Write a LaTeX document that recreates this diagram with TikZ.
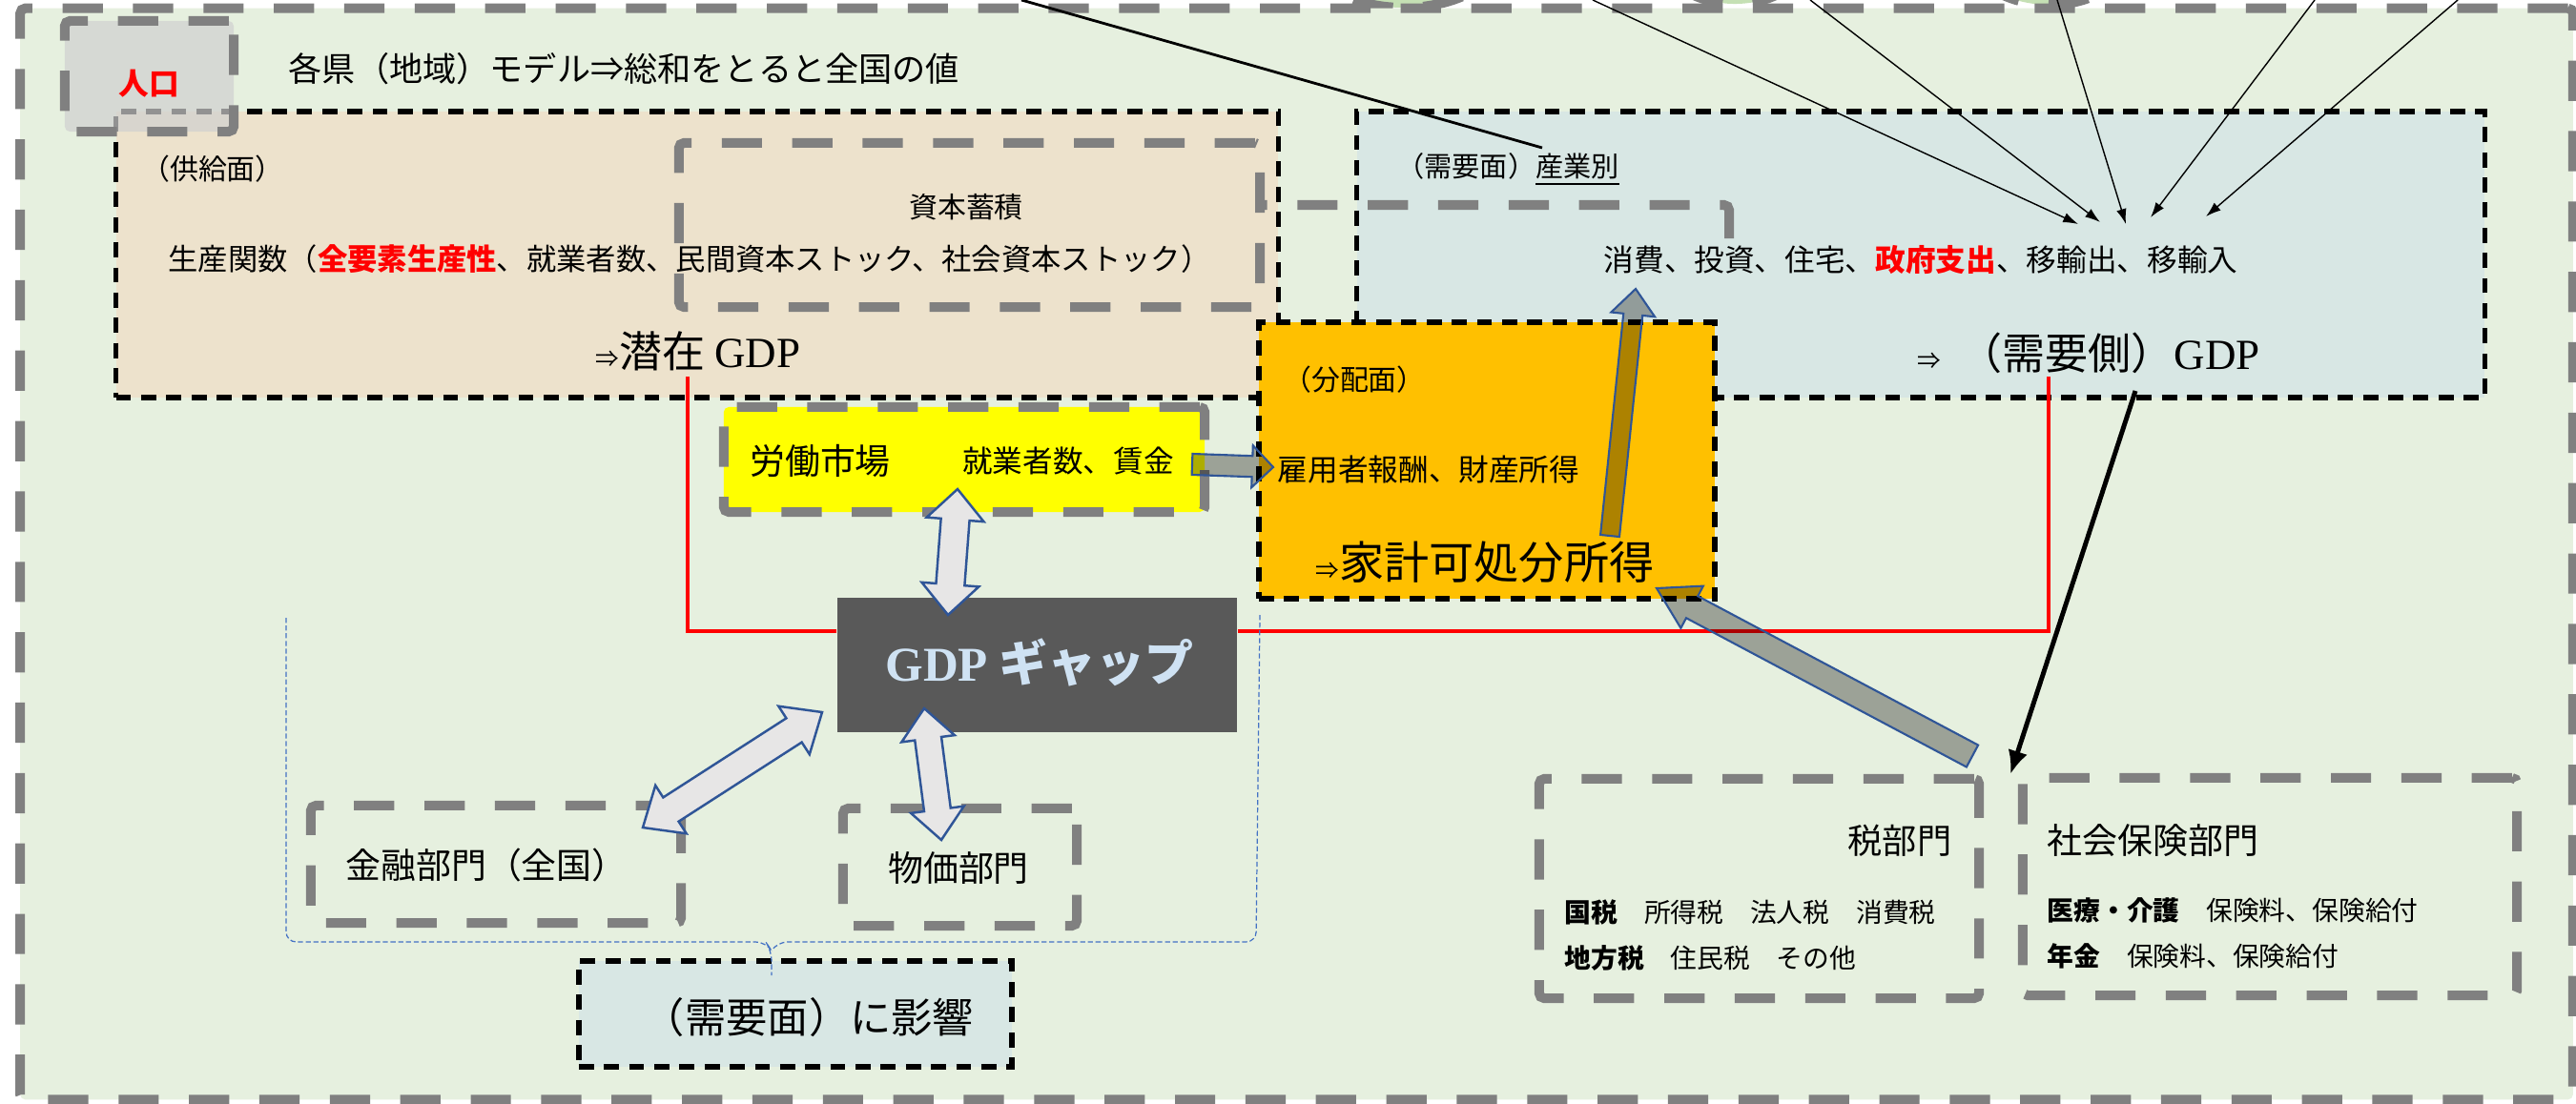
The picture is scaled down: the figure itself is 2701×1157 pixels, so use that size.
\documentclass[tikz,border=0pt]{standalone}
\usepackage{fontspec}
\setmainfont{Noto Sans CJK JP}
\newfontfamily\lserif{Liberation Serif}
\usetikzlibrary{calc,arrows.meta}
\definecolor{bgGreen}{HTML}{E6F0DF}
\definecolor{supplyTan}{HTML}{EDE2CC}
\definecolor{demandBlue}{HTML}{D8E7E4}
\definecolor{popGray}{HTML}{D0D0D0}
\definecolor{dashGray}{HTML}{808080}
\definecolor{distOrange}{HTML}{FFC000}
\definecolor{labYellow}{HTML}{FFFF00}
\definecolor{gapDark}{HTML}{595959}
\definecolor{gapText}{HTML}{CFE2F3}
\definecolor{arrowBlue}{HTML}{2F5597}
\definecolor{arrowLight}{HTML}{E7E6E6}
\definecolor{braceBlue}{HTML}{4472C4}
\definecolor{topGreen}{HTML}{C5E0B4}
\definecolor{redLine}{HTML}{FF0000}
\newcommand\fsz[1]{\fontsize{#1}{#1}\selectfont}
% single-headed block arrow: style, tail, tip, half shaft, half head, head length
\newcommand\singlearrow[6]{%
  \coordinate (tmpC) at ($(#3)!#6!(#2)$);
  \path[#1] ($(#2)!#4!90:(#3)$) -- ($(tmpC)!#4!-90:(#2)$) -- ($(tmpC)!#5!-90:(#2)$) -- (#3)
    -- ($(tmpC)!#5!90:(#2)$) -- ($(tmpC)!#4!90:(#2)$) -- ($(#2)!#4!-90:(#3)$) -- cycle;}
% double-headed block arrow
\newcommand\doublearrow[6]{%
  \coordinate (tmpCa) at ($(#2)!#6!(#3)$);
  \coordinate (tmpCb) at ($(#3)!#6!(#2)$);
  \path[#1] (#2) -- ($(tmpCa)!#5!90:(#3)$) -- ($(tmpCa)!#4!90:(#3)$) -- ($(tmpCb)!#4!-90:(#2)$)
    -- ($(tmpCb)!#5!-90:(#2)$) -- (#3) -- ($(tmpCb)!#5!90:(#2)$) -- ($(tmpCb)!#4!90:(#2)$)
    -- ($(tmpCa)!#4!-90:(#3)$) -- ($(tmpCa)!#5!-90:(#3)$) -- cycle;}
\tikzset{
  grayline/.style={draw=dashGray, line width=2.85pt, dash pattern=on 12pt off 9pt, rounded corners=1.5pt},
  graybox/.style={grayline, rectangle, inner sep=0pt},
  blackbox/.style={draw=black, line width=1.6pt, dash pattern=on 4.5pt off 3pt, rectangle, inner sep=0pt},
  txt/.style={inner sep=0pt, text=black},
  redpath/.style={draw=redLine, line width=1.1pt},
  blockfill/.style={fill=black, fill opacity=0.32, draw=arrowBlue, line width=0.6pt},
  dblfill/.style={fill=arrowLight, draw=arrowBlue, line width=0.7pt},
  thinarrow/.style={draw=black, line width=0.4pt, -{Latex[length=4.5pt,width=3pt]}},
  thickarrow/.style={draw=black, line width=1.4pt, -{Latex[length=7pt,width=6pt]}},
  bracepath/.style={draw=braceBlue, line width=0.35pt, dash pattern=on 1.5pt off 0.8pt, rounded corners=3pt}
}
\begin{document}
\begin{tikzpicture}[x=0.01cm,y=-0.01cm]
\useasboundingbox (0,0) rectangle (2701,1157);
\fill[white] (0,0) rectangle (2701,1157);
% partial shapes above the frame
\path[grayline, fill=topGreen] (1472,-60) ellipse [x radius=1.09cm, y radius=0.68cm];
\path[grayline, fill=topGreen] (1819,-60) ellipse [x radius=0.84cm, y radius=0.64cm];
\path[grayline, fill=topGreen] (2149,-60) ellipse [x radius=0.91cm, y radius=0.65cm];
% frame
\node[graybox, fill=bgGreen, minimum width=26.75cm, minimum height=11.44cm] (outer) at (1359.5,581) {};
% main boxes
\node[blackbox, fill=supplyTan, minimum width=12.18cm, minimum height=3.0cm] (supply) at (731,267) {};
\node[blackbox, fill=demandBlue, minimum width=11.82cm, minimum height=3.0cm] (demand) at (2014,267) {};
\node[graybox, minimum width=6.09cm, minimum height=1.72cm] (capital) at (1016.5,236) {};
\coordinate (capY) at (0,215);
\coordinate (capEnd) at (1813,250);
\draw[grayline] (capEnd) |- (capY -| capital.east);
\node[graybox, fill=popGray, fill opacity=0.7, minimum width=1.77cm, minimum height=1.16cm] (pop) at (156.5,80) {};
\node[blackbox, fill=distOrange, minimum width=4.78cm, minimum height=2.90cm] (dist) at (1559,483) {};
% gap box and red links
\node[rectangle, inner sep=0pt, fill=gapDark, minimum width=4.19cm, minimum height=1.41cm] (gap) at (1087.5,697.5) {};
\coordinate (redL) at (721,395);
\coordinate (redR) at (2148,395);
\coordinate (redY) at (0,662);
\draw[redpath] (redL) |- (redY -| gap.west);
\draw[redpath] (redR) |- (redY -| gap.east);
% other boxes
\node[graybox, fill=labYellow, minimum width=5.04cm, minimum height=1.10cm] (labour) at (1011,482) {};
\node[graybox, minimum width=3.88cm, minimum height=1.23cm] (finance) at (520,906.5) {};
\node[graybox, minimum width=2.45cm, minimum height=1.23cm] (price) at (1006.5,909.5) {};
\node[blackbox, fill=demandBlue, minimum width=4.54cm, minimum height=1.11cm] (effect) at (834,1063.5) {};
\node[graybox, minimum width=4.61cm, minimum height=2.30cm] (tax) at (1844.5,932) {};
\node[graybox, minimum width=5.18cm, minimum height=2.28cm] (social) at (2380,930) {};
% brace
\coordinate (brL) at (300,648);
\coordinate (brR) at (1321,645);
\coordinate (brTip) at (809,1023);
\draw[bracepath] (brL) -- (300,988) -- (803,988) -- (809,997) -- (brTip);
\draw[bracepath] (brR) -- (1317,988) -- (815,988) -- (809,997);
% texts
\node[txt, text=redLine, font=\fsz{9pt}\bfseries] (popT) at (156,88) {人口};
\node[txt, font=\fsz{10pt}, anchor=west] (title) at (302,72) {各県（地域）モデル⇒総和をとると全国の値};
\node[txt, font=\fsz{8.5pt}] (supT) at (223,177) {（供給面）};
\node[txt, font=\fsz{8.9pt}] (prodT) at (723,272) {生産関数（{\color{redLine}\bfseries 全要素生産性}、就業者数、民間資本ストック、社会資本ストック）};
\node[txt, font=\fsz{12.8pt}] (potT) at (732,368) {{\fsz{7pt}⇒}潜在 {\lserif GDP}};
\node[txt, font=\fsz{8.5pt}] (capT) at (1013,217) {資本蓄積};
\node[txt, font=\fsz{8.3pt}] (demT) at (1581,178) {（需要面）\underline{産業別}};
\node[txt, font=\fsz{9pt}] (compT) at (2014,273) {消費、投資、住宅、{\color{redLine}\bfseries 政府支出}、移輸出、移輸入};
\node[txt, font=\fsz{12.8pt}] (dgdpT) at (2190,370) {{\fsz{7pt}⇒}\hspace{0.2cm}（需要側）{\lserif GDP}};
\node[txt, font=\fsz{8.5pt}] (distT) at (1420,398) {（分配面）};
\node[txt, font=\fsz{9pt}] (incT) at (1498,493) {雇用者報酬、財産所得};
\node[txt, font=\fsz{13.4pt}] (hhT) at (1557,590) {{\fsz{7pt}⇒}家計可処分所得};
\node[txt, font=\fsz{10.5pt}] (labT) at (860,483) {労働市場};
\node[txt, font=\fsz{9pt}] (labT2) at (1120,483) {就業者数、賃金};
\node[txt, text=gapText, font=\fsz{14.5pt}\bfseries] (gapT) at (1090,695) {{\lserif GDP} ギャップ};
\node[txt, font=\fsz{10.5pt}] (finT) at (510,907) {金融部門（全国）};
\node[txt, font=\fsz{10.5pt}] (priceT) at (1005,910) {物価部門};
\node[txt, font=\fsz{12.3pt}] (effT) at (848,1067) {（需要面）に影響};
\node[txt, font=\fsz{10.3pt}, anchor=east] (taxT) at (2047,882) {税部門};
\node[txt, font=\fsz{7.9pt}, anchor=west] (taxL1) at (1640,957) {{\bfseries 国税}　所得税　法人税　消費税};
\node[txt, font=\fsz{7.9pt}, anchor=west] (taxL2) at (1640,1005) {{\bfseries 地方税}　住民税　その他};
\node[txt, font=\fsz{10.5pt}, anchor=west] (socT) at (2146,882) {社会保険部門};
\node[txt, font=\fsz{7.9pt}, anchor=west] (socL1) at (2146,955) {{\bfseries 医療・介護}　保険料、保険給付};
\node[txt, font=\fsz{7.9pt}, anchor=west] (socL2) at (2146,1003) {{\bfseries 年金}　保険料、保険給付};
% lines from above
\coordinate (lnS) at (1071,0);
\coordinate (lnE) at (1617,155);
\draw[black, line width=0.8pt] (lnS) -- (lnE);
\coordinate (s1) at (1670,0); \coordinate (t1) at (2179,235);
\coordinate (s2) at (1898,0); \coordinate (t2) at (2202,233);
\coordinate (s3) at (2157,0); \coordinate (t3) at (2229,235);
\coordinate (s4) at (2427,0); \coordinate (t4) at (2255,228);
\coordinate (s5) at (2577,0); \coordinate (t5) at (2313,227);
\draw[thinarrow] (s1) -- (t1);
\draw[thinarrow] (s2) -- (t2);
\draw[thinarrow] (s3) -- (t3);
\draw[thinarrow] (s4) -- (t4);
\draw[thinarrow] (s5) -- (t5);
% demand -> tax/social
\coordinate (dmOut) at (2239,410);
\coordinate (tsIn) at (2108,812);
\draw[thickarrow] (dmOut) -- (tsIn);
% block arrows
\coordinate (labA) at (1250,487); \coordinate (labB) at (1335,490);
\singlearrow{blockfill}{labA}{labB}{0.11cm}{0.22cm}{0.22cm}
\coordinate (lgA) at (1004,513); \coordinate (lgB) at (994,645);
\doublearrow{dblfill}{lgA}{lgB}{0.15cm}{0.30cm}{0.32cm}
\coordinate (gfA) at (862,747); \coordinate (gfB) at (674,868);
\doublearrow{dblfill}{gfA}{gfB}{0.15cm}{0.30cm}{0.35cm}
\coordinate (gpA) at (969,743); \coordinate (gpB) at (987,881);
\doublearrow{dblfill}{gpA}{gpB}{0.14cm}{0.28cm}{0.32cm}
\coordinate (thA) at (2068,793); \coordinate (thB) at (1737,617);
\singlearrow{blockfill}{thA}{thB}{0.13cm}{0.25cm}{0.42cm}
\coordinate (duA) at (1688,562); \coordinate (duB) at (1715,303);
\singlearrow{blockfill}{duA}{duB}{0.10cm}{0.23cm}{0.27cm}
\end{tikzpicture}
\end{document}
